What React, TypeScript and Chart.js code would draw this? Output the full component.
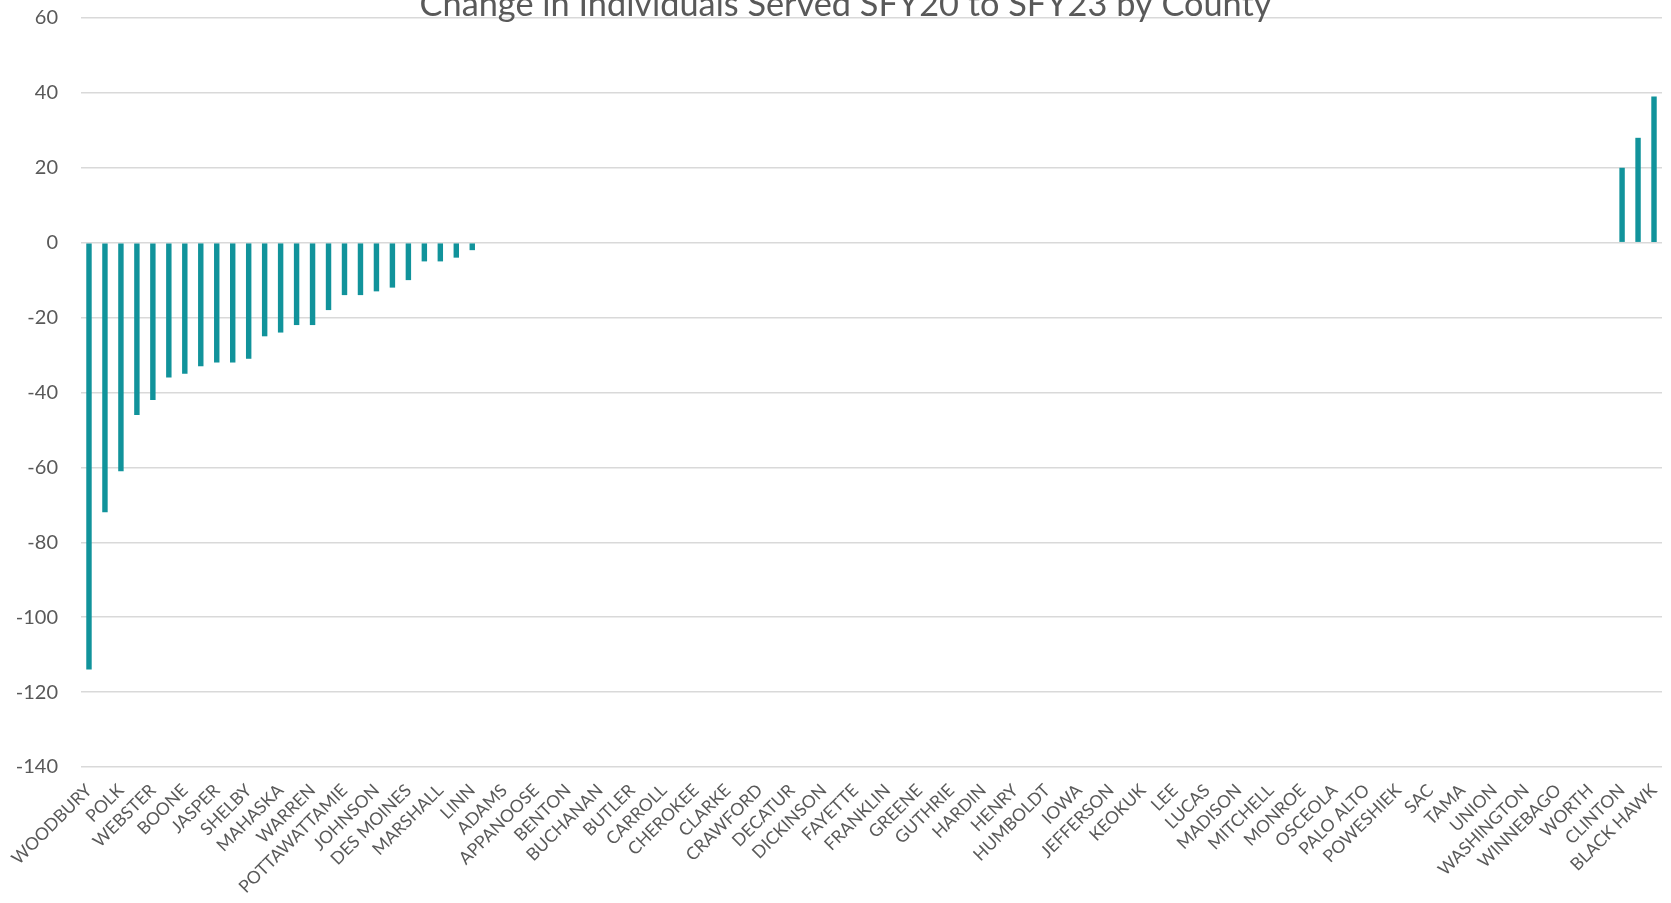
import React, { useEffect, useRef } from "react";
import { Chart, registerables } from "chart.js";

Chart.register(...registerables);

const TITLE = "Change in Individuals Served SFY20 to SFY23 by County";

const COUNTIES = [
  "WOODBURY", "DUBUQUE", "POLK", "STORY", "WEBSTER", "CERRO GORDO", "BOONE", "DALLAS",
  "JASPER", "MUSCATINE", "SHELBY", "WAPELLO", "MAHASKA", "MARION", "WARREN", "CLAYTON",
  "POTTAWATTAMIE", "CEDAR", "JOHNSON", "HAMILTON", "DES MOINES", "PLYMOUTH", "MARSHALL", "MONTGOMERY",
  "LINN", "ADAIR", "ADAMS", "ALLAMAKEE", "APPANOOSE", "AUDUBON", "BENTON", "BREMER",
  "BUCHANAN", "BUENA VISTA", "BUTLER", "CALHOUN", "CARROLL", "CASS", "CHEROKEE", "CHICKASAW",
  "CLARKE", "CLAY", "CRAWFORD", "DAVIS", "DECATUR", "DELAWARE", "DICKINSON", "EMMET",
  "FAYETTE", "FLOYD", "FRANKLIN", "FREMONT", "GREENE", "GRUNDY", "GUTHRIE", "HANCOCK",
  "HARDIN", "HARRISON", "HENRY", "HOWARD", "HUMBOLDT", "IDA", "IOWA", "JACKSON",
  "JEFFERSON", "JONES", "KEOKUK", "KOSSUTH", "LEE", "LOUISA", "LUCAS", "LYON",
  "MADISON", "MILLS", "MITCHELL", "MONONA", "MONROE", "O'BRIEN", "OSCEOLA", "PAGE",
  "PALO ALTO", "POCAHONTAS", "POWESHIEK", "RINGGOLD", "SAC", "SIOUX", "TAMA", "TAYLOR",
  "UNION", "VAN BUREN", "WASHINGTON", "WAYNE", "WINNEBAGO", "WINNESHIEK", "WORTH", "WRIGHT",
  "CLINTON", "SCOTT", "BLACK HAWK",
];

const CHANGE = [
  -114, -72, -61, -46, -42, -36, -35, -33,
  -32, -32, -31, -25, -24, -22, -22, -18,
  -14, -14, -13, -12, -10, -5, -5, -4,
  -2, 0, 0, 0, 0, 0, 0, 0,
  0, 0, 0, 0, 0, 0, 0, 0,
  0, 0, 0, 0, 0, 0, 0, 0,
  0, 0, 0, 0, 0, 0, 0, 0,
  0, 0, 0, 0, 0, 0, 0, 0,
  0, 0, 0, 0, 0, 0, 0, 0,
  0, 0, 0, 0, 0, 0, 0, 0,
  0, 0, 0, 0, 0, 0, 0, 0,
  0, 0, 0, 0, 0, 0, 0, 0,
  20, 28, 39,
];

const Y_MIN = -140;
const Y_MAX = 60;
const Y_STEP = 20;

const TEXT_COLOR = "#595959";
const BAR_COLOR = "#11939b";
const GRID_COLOR = "#d9d9d9";
const FONT = "Lato";

const CANVAS_W = 1691;
const CANVAS_H = 933;

export default function App() {
  const ref = useRef<HTMLCanvasElement>(null);

  useEffect(() => {
    if (!ref.current) return;
    const chart = new Chart(ref.current, {
      type: "bar",
      data: {
        labels: COUNTIES,
        datasets: [
          {
            data: CHANGE,
            backgroundColor: BAR_COLOR,
            barPercentage: 0.34,
            categoryPercentage: 1,
            yAxisID: "y",
          },
        ],
      },
      options: {
        responsive: false,
        animation: false,
        layout: { padding: 0 },
        plugins: {
          legend: { display: false },
          tooltip: { enabled: false },
          title: {
            display: true,
            text: TITLE,
            color: TEXT_COLOR,
            font: { family: FONT, size: 34.3, weight: "normal" },
            padding: { top: 14, bottom: -7.2 },
          },
        },
        scales: {
          x: {
            grid: { display: false },
            border: { display: false },
            ticks: {
              autoSkip: false,
              maxRotation: 45,
              minRotation: 45,
              color: TEXT_COLOR,
              font: { family: FONT, size: 17.5 },
              padding: 5,
              callback: (_v: any, i: number) => (i % 2 === 0 ? COUNTIES[i] : ""),
            },
            afterFit: (s: any) => {
              s.height = 136;
            },
          },
          y: {
            min: Y_MIN,
            max: Y_MAX,
            ticks: {
              stepSize: Y_STEP,
              color: TEXT_COLOR,
              font: { family: FONT, size: 20 },
              padding: 23,
            },
            grid: { color: GRID_COLOR, lineWidth: 1.5, drawTicks: false },
            border: { display: false },
            afterFit: (s: any) => {
              s.width = 81;
            },
          },
          spacer: {
            type: "linear",
            position: "right",
            display: true,
            grid: { display: false, drawTicks: false },
            border: { display: false },
            ticks: { display: false },
            afterFit: (s: any) => {
              s.width = 29;
            },
          },
        },
      },
    });
    return () => chart.destroy();
  }, []);

  return (
    <div
      style={{
        position: "fixed",
        left: 0,
        top: 0,
        width: 1671,
        height: 903,
        overflow: "hidden",
        background: "#fff",
      }}
    >
      <canvas
        ref={ref}
        width={CANVAS_W}
        height={CANVAS_H}
        style={{ position: "absolute", left: 0, top: -30, display: "block" }}
      />
    </div>
  );
}
